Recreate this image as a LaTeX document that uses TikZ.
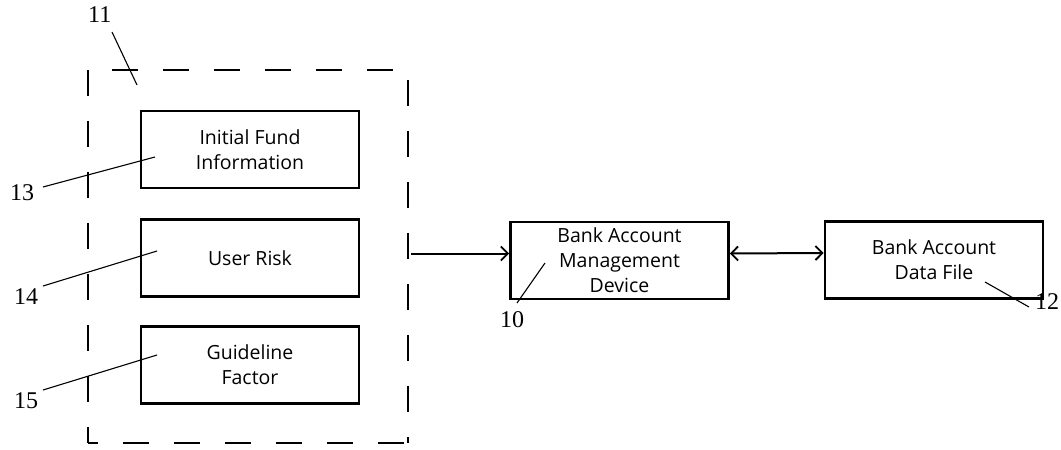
\documentclass[tikz,border=0pt]{standalone}
\usepackage{fontspec}
\setmainfont{Liberation Serif}
\newfontfamily\boxfont{Open Sans}
\usetikzlibrary{arrows.meta}
\begin{document}
\begin{tikzpicture}[x=1pt,y=-1pt,
  >={Straight Barb[length=7pt,width=14pt,line width=1.8pt]},
  blk/.style={draw,line width=2.6pt,minimum width=218pt,minimum height=77pt,inner sep=0pt,align=center,font=\boxfont\fontsize{19.5}{25}\selectfont},
  grpbox/.style={minimum width=320pt,minimum height=373pt,inner sep=0pt},
  grpside/.style={line width=2.4pt,dash pattern=on 26pt off 25pt},
  num/.style={font=\fontsize{24}{26}\selectfont,inner sep=0pt},
  lead/.style={line width=1.1pt},
  arr/.style={line width=2pt}]
\useasboundingbox (0,0) rectangle (1061,450);
\node[grpbox] (grp) at (248,256.5) {};
\draw[grpside] (grp.north west) -- (grp.south west);
\draw[grpside,dash phase=27pt] (grp.north west) -- (grp.north east);
\draw[grpside,dash phase=41pt] (grp.north east) -- (grp.south east);
\draw[grpside,dash phase=16pt] (grp.south west) -- (grp.south east);
\node[blk] (ifi) at (250,149.5) {Initial Fund\\Information};
\node[blk] (ur) at (250,258) {User Risk};
\node[blk] (gf) at (250,365) {Guideline\\Factor};
\node[blk] (bam) at (619.5,260.5) {Bank Account\\Management\\Device};
\node[blk] (df) at (934,260) {Bank Account\\Data File};
% connectors
\coordinate (ain) at ([yshift=7pt]bam.west);
\coordinate (aout) at ([yshift=7pt]bam.east);
\coordinate (bin) at ([yshift=7pt]df.west);
\draw[arr,->] ([xshift=3pt]grp.east |- ain) -- (ain);
\draw[arr,<->] (aout) -- (bin);
% labels
\node[num] (n11) at (88,15) [anchor=west] {11};
\node[num] (n13) at (22,193) {13};
\node[num] (n14) at (26,297) {14};
\node[num] (n15) at (26,401) {15};
\node[num] (n10) at (512,320) {10};
\node[num] (n12) at (1047,302) {12};
\coordinate (e11) at (137,85);
\coordinate (e13) at (155,157);
\coordinate (e14) at (157,251);
\coordinate (e15) at (157,355);
\coordinate (e10) at (545,263);
\coordinate (e12) at (985,282);
\draw[lead] (112,32) -- (e11);
\draw[lead] (43,187) -- (e13);
\draw[lead] (43,286) -- (e14);
\draw[lead] (43,390) -- (e15);
\draw[lead] (517,303) -- (e10);
\draw[lead] (1029,307) -- (e12);
\end{tikzpicture}
\end{document}
